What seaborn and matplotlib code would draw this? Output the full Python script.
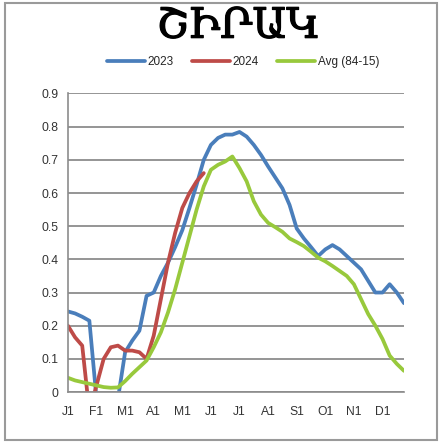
import pandas as pd
import seaborn as sns
import matplotlib.pyplot as plt
import matplotlib.patheffects as pe
from matplotlib.patches import Rectangle

# Quarter-month steps, Jan 1 .. late Dec (48 points)
weeks = list(range(48))
month_labels = ['J1', 'F1', 'M1', 'A1', 'M1', 'J1', 'J1', 'A1', 'S1', 'O1', 'N1', 'D1']

# values at or below the axis are hidden by the 0 floor, as in the original
vals_2023 = [0.243, 0.237, 0.227, 0.215, -0.02, -0.03, -0.03, -0.02, 0.12, 0.155,
             0.185, 0.29, 0.30, 0.35, 0.39, 0.437, 0.488, 0.555, 0.625, 0.70,
             0.745, 0.766, 0.776, 0.776, 0.784, 0.77, 0.745, 0.715, 0.68, 0.647,
             0.614, 0.564, 0.493, 0.463, 0.437, 0.41, 0.43, 0.443, 0.43, 0.41,
             0.39, 0.37, 0.335, 0.30, 0.30, 0.325, 0.30, 0.268]

vals_2024 = [0.20, 0.165, 0.14, -0.06, 0.02, 0.10, 0.135, 0.14, 0.125, 0.125,
             0.12, 0.10, 0.17, 0.28, 0.39, 0.48, 0.555, 0.60, 0.635, 0.66]

vals_avg = [0.043, 0.035, 0.03, 0.025, 0.02, 0.015, 0.013, 0.014, 0.033, 0.055,
            0.075, 0.095, 0.135, 0.18, 0.24, 0.31, 0.39, 0.47, 0.55, 0.62,
            0.67, 0.685, 0.695, 0.71, 0.675, 0.635, 0.575, 0.535, 0.51, 0.497,
            0.483, 0.463, 0.452, 0.44, 0.423, 0.405, 0.394, 0.38, 0.365, 0.35,
            0.325, 0.28, 0.235, 0.20, 0.16, 0.11, 0.085, 0.064]

series_names = ['2023', '2024', 'Avg (84-15)']
colors = {'2023': '#4A7EBB', '2024': '#BE4B48', 'Avg (84-15)': '#98C93C'}

df = pd.concat([
    pd.DataFrame({'week': weeks, 'value': vals_2023, 'series': '2023'}),
    pd.DataFrame({'week': weeks[:len(vals_2024)], 'value': vals_2024, 'series': '2024'}),
    pd.DataFrame({'week': weeks, 'value': vals_avg, 'series': 'Avg (84-15)'}),
], ignore_index=True)

sns.set_style('white')
plt.rcParams['font.family'] = ['Liberation Sans', 'DejaVu Sans']

fig = plt.figure(figsize=(4.41, 4.43), dpi=100)
ax = fig.add_axes([0.154, 0.115, 0.762, 0.674])

sns.lineplot(data=df, x='week', y='value', hue='series', hue_order=series_names,
             palette=colors, linewidth=2.7, ax=ax, legend=True)

ax.set_xlim(0, 47)
ax.set_ylim(0, 0.9)
yticks = [i / 10 for i in range(10)]
ax.set_yticks(yticks, labels=['0'] + [f'{t:.1f}' for t in yticks[1:]])
xlabels = [''] * 48
for i, m in enumerate(month_labels):
    xlabels[i * 4] = m
ax.set_xticks(weeks, labels=xlabels)
ax.set_xlabel('')
ax.set_ylabel('')

ax.yaxis.grid(True, color='#8c8c8c', linewidth=1.3)
ax.set_axisbelow(True)
for side in ['top', 'right']:
    ax.spines[side].set_visible(False)
for side in ['left', 'bottom']:
    ax.spines[side].set_color('#8c8c8c')
    ax.spines[side].set_linewidth(1.2)
ax.tick_params(axis='both', direction='out', length=4, width=1, color='#8c8c8c',
               labelsize=8.7, labelcolor='#333333', pad=3)
ax.tick_params(axis='x', pad=6)

sns.move_legend(ax, 'center', bbox_to_anchor=(0.521, 1.105), ncol=3, frameon=False,
                title=None, fontsize=8.5, handlelength=3.2, handletextpad=0.2,
                columnspacing=1.6)

fig.text(0.54, 0.942, 'ՇԻՐԱԿ', ha='center', va='center', fontsize=30,
         family=['DejaVu Serif', 'DejaVu Sans'], color='black',
         path_effects=[pe.withStroke(linewidth=0.9, foreground='black')])

fig.patches.append(Rectangle((0.011, 0.007), 0.98, 0.986, transform=fig.transFigure,
                             fill=False, edgecolor='#9a9a9a', linewidth=1.5))

fig.savefig('out.png', dpi=100)
